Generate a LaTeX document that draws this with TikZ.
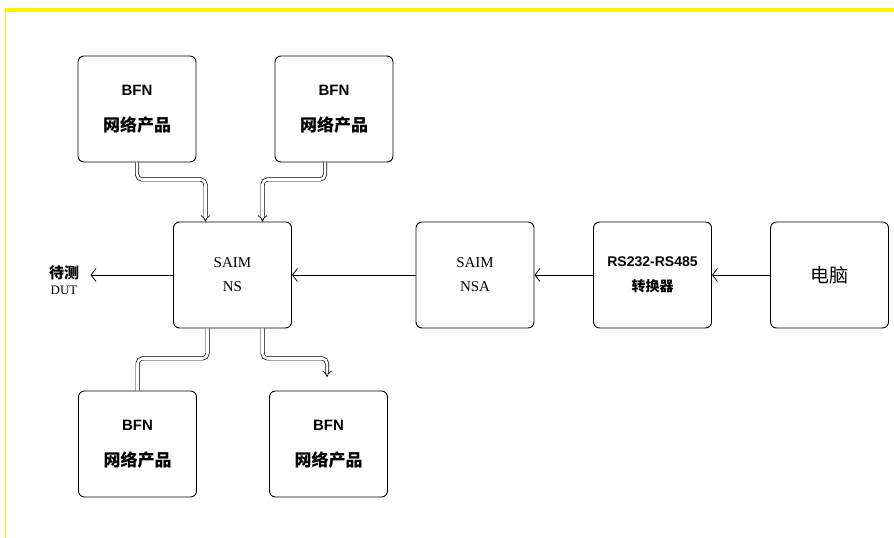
\documentclass[tikz,border=0pt]{standalone}
\usepackage{fontspec}
\setmainfont{Liberation Serif}
\setsansfont{Liberation Sans}
\newfontfamily\cjk{Noto Sans CJK SC}
\usetikzlibrary{arrows.meta}

\begin{document}
\begin{tikzpicture}[x=1pt,y=-1pt,
  box/.style={draw,black,line width=0.9pt,rounded corners=6pt,minimum width=118pt,minimum height=106pt,align=center,inner sep=0pt},
  pipe/.style={double,double distance=2.6pt,line width=0.7pt,rounded corners=5pt},
  wire/.style={line width=0.9pt,-{Straight Barb[length=5pt,width=13pt,line width=0.8pt]}}]
\def\bfn{{\sffamily\bfseries\fontsize{15}{18}\selectfont BFN}\\[20pt]{\cjk\bfseries\fontsize{17}{18}\selectfont 网络产品}}

\useasboundingbox (0,0) rectangle (894,538);
\draw [yellow,line width=4pt] (5,10) -- (894,10);
\draw [yellow,line width=1pt] (5,10) -- (5,538);

\node [box, name=p1] at (137,109) {\bfn};
\node [box, name=p2] at (334,109) {\bfn};
\node [box, name=p3] at (137.5,444) {\bfn};
\node [box, name=p4] at (328.5,444) {\bfn};
\node [box, font=\fontsize{15}{24}\selectfont, name=s1] at (232.5,275) {SAIM\\NS};
\node [box, font=\fontsize{15}{24}\selectfont, name=s2] at (475,275) {SAIM\\NSA};
\node [box, name=c1] at (652.5,275) {{\sffamily\bfseries\fontsize{14}{16}\selectfont RS232-RS485}\\[12pt]{\cjk\bfseries\fontsize{14}{16}\selectfont 转换器}};
\node [box, font=\cjk\fontsize{19}{20}\selectfont, name=pc] at (829.5,275) {电脑};
\node [align=center, name=t1] at (64,280) {{\cjk\bfseries\fontsize{15}{16}\selectfont 待测}\\[4pt]{\fontsize{13}{14}\selectfont DUT}};

\draw [wire] (pc.west) -- (c1.east);
\draw [wire] (c1.west) -- (s2.east);
\draw [wire] (s2.west) -- (s1.east);
\draw [wire] (s1.west) -- ([xshift=8pt]s1.west -| t1.east);

\draw [pipe,-Implies] (p1.south) -- ++(0,17) -| ([xshift=-27pt]s1.north);
\draw [pipe,-Implies] ([xshift=-9pt]p2.south) -- ++(0,17) -| ([xshift=30pt]s1.north);
\draw [pipe] ([xshift=-25pt]s1.south) -- ++(0,30) -| (p3.north);
\coordinate (e4) at (327,377);
\draw [pipe,-Implies] ([xshift=30pt]s1.south) -- ++(0,30) -| (e4);
\end{tikzpicture}
\end{document}
